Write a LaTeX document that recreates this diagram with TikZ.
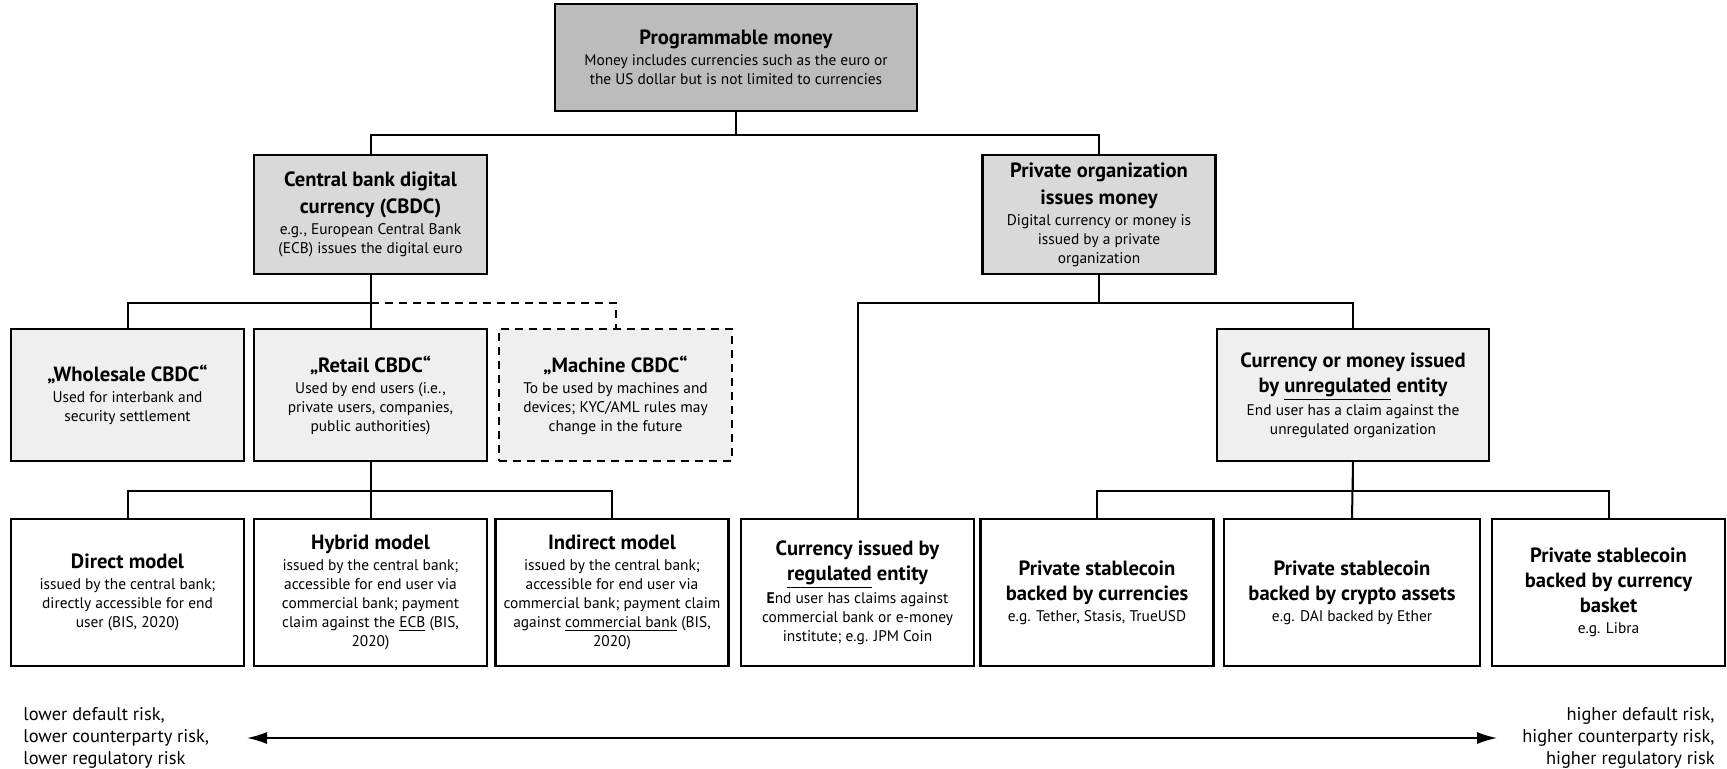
\documentclass[tikz,border=0pt]{standalone}
\usepackage{fontspec}
\setmainfont{PT Sans}
\usepackage{tikz}
\usetikzlibrary{arrows.meta,calc}
\definecolor{topgray}{HTML}{BCBCBC}
\definecolor{midgray}{HTML}{D9D9D9}
\definecolor{lowgray}{HTML}{EFEFEF}
\newcommand{\boxtitle}[1]{{\fontsize{10.3}{12}\selectfont\bfseries #1}}

\begin{document}
\begin{tikzpicture}[x=0.5pt,y=-0.5pt,
  box/.style={draw, line width=1.1pt, align=center, inner sep=2pt, font=\fontsize{7.7}{9.5}\selectfont, minimum width=116.5pt},
  lvlone/.style={box, fill=midgray, minimum height=59.5pt},
  lvltwo/.style={box, fill=lowgray, minimum height=66pt},
  leaf/.style={box, fill=white, minimum height=73.5pt},
  link/.style={line width=1pt},
  maybe/.style={dash pattern=on 4pt off 3pt}]
\useasboundingbox (0,0) rectangle (1727,768);
\node[box, fill=topgray, minimum width=181pt, minimum height=53.5pt] (prog) at (736,57.5) {\boxtitle{Programmable money}\\[1pt] Money includes currencies such as the euro or\\ the US dollar but is not limited to currencies};
\node[lvlone] (cbdc) at (370.5,214.5) {\boxtitle{Central bank digital}\\[3pt] \boxtitle{currency (CBDC)}\\[1pt] e.g., European Central Bank\\ (ECB) issues the digital euro};
\node[lvlone] (priv) at (1099,214.5) {\boxtitle{Private organization}\\[3pt] \boxtitle{issues money}\\[1pt] Digital currency or money is\\ issued by a private\\ organization};
\node[lvltwo] (whole) at (127.5,395) {\boxtitle{„Wholesale CBDC“}\\[1pt] Used for interbank and\\ security settlement};
\node[lvltwo] (retail) at (370.5,395) {\boxtitle{„Retail CBDC“}\\[1pt] Used by end users (i.e.,\\ private users, companies,\\ public authorities)};
\node[lvltwo, maybe] (machine) at (615.5,395) {\boxtitle{„Machine CBDC“}\\[1pt] To be used by machines and\\ devices; KYC/AML rules may\\ change in the future};
\node[lvltwo, minimum width=136pt] (unreg) at (1353,395) {\boxtitle{Currency or money issued}\\[3pt] \boxtitle{by \underline{unregulated} entity}\\[1pt] End user has a claim against the\\ unregulated organization};
\node[leaf] (direct) at (127.5,592.5) {\boxtitle{Direct model}\\[1pt] issued by the central bank;\\ directly accessible for end\\ user (BIS, 2020)};
\node[leaf] (hybrid) at (370.5,592.5) {\boxtitle{Hybrid model}\\[1pt] issued by the central bank;\\ accessible for end user via\\ commercial bank; payment\\ claim against the \underline{ECB} (BIS,\\ 2020)};
\node[leaf] (indirect) at (612,592.5) {\boxtitle{Indirect model}\\[1pt] issued by the central bank;\\ accessible for end user via\\ commercial bank; payment claim\\ against \underline{commercial bank} (BIS,\\ 2020)};
\node[leaf] (reg) at (857.5,592.5) {\boxtitle{Currency issued by}\\[3pt] \boxtitle{\underline{regulated} entity}\\[1pt] \textbf{E}nd user has claims against\\ commercial bank or e-money\\ institute; e.g. JPM Coin};
\node[leaf] (stcur) at (1097,592.5) {\boxtitle{Private stablecoin}\\[3pt] \boxtitle{backed by currencies}\\[1pt] e.g. Tether, Stasis, TrueUSD};
\node[leaf, minimum width=128pt] (stcrypto) at (1352,592.5) {\boxtitle{Private stablecoin}\\[3pt] \boxtitle{backed by crypto assets}\\[1pt] e.g. DAI backed by Ether};
\node[leaf] (stbasket) at (1608.5,592.5) {\boxtitle{Private stablecoin}\\[3pt] \boxtitle{backed by currency}\\[3pt] \boxtitle{basket}\\[1pt] e.g. Libra};
\draw[link] (prog.south) -- ++(0,23) -| (cbdc.north);
\draw[link] (prog.south) -- ++(0,23) -| (priv.north);
\draw[link] (cbdc.south) -- ++(0,28) -| (whole.north);
\draw[link] (cbdc.south) -- (retail.north);
\draw[link, maybe] ($(cbdc.south)+(0,28)$) -| (machine.north);
\draw[link] (retail.south) -- ++(0,29) -| (direct.north);
\draw[link] (retail.south) -- (hybrid.north);
\draw[link] (retail.south) -- ++(0,29) -| (indirect.north);
\draw[link] (priv.south) -- ++(0,28) -| (reg.north);
\draw[link] (priv.south) -- ++(0,28) -| (unreg.north);
\draw[link] (unreg.south) -- ++(0,29) -| (stcur.north);
\draw[link] (unreg.south) -- (stcrypto.north);
\draw[link] (unreg.south) -- ++(0,29) -| (stbasket.north);
\node[anchor=west, align=left, inner sep=0pt, font=\fontsize{9.2}{11}\selectfont] (lowrisk) at (23,738) {lower default risk,\\ lower counterparty risk,\\ lower regulatory risk};
\node[anchor=east, align=right, inner sep=0pt, font=\fontsize{9.2}{11}\selectfont] (highrisk) at (1715,738) {higher default risk,\\ higher counterparty risk,\\ higher regulatory risk};
\coordinate (lowend) at (247,738);
\coordinate (highend) at (1497,738);
\draw[line width=0.8pt, {Latex[length=10pt,width=6pt]}-{Latex[length=10pt,width=6pt]}] (lowend) -- (highend);
\end{tikzpicture}
\end{document}
